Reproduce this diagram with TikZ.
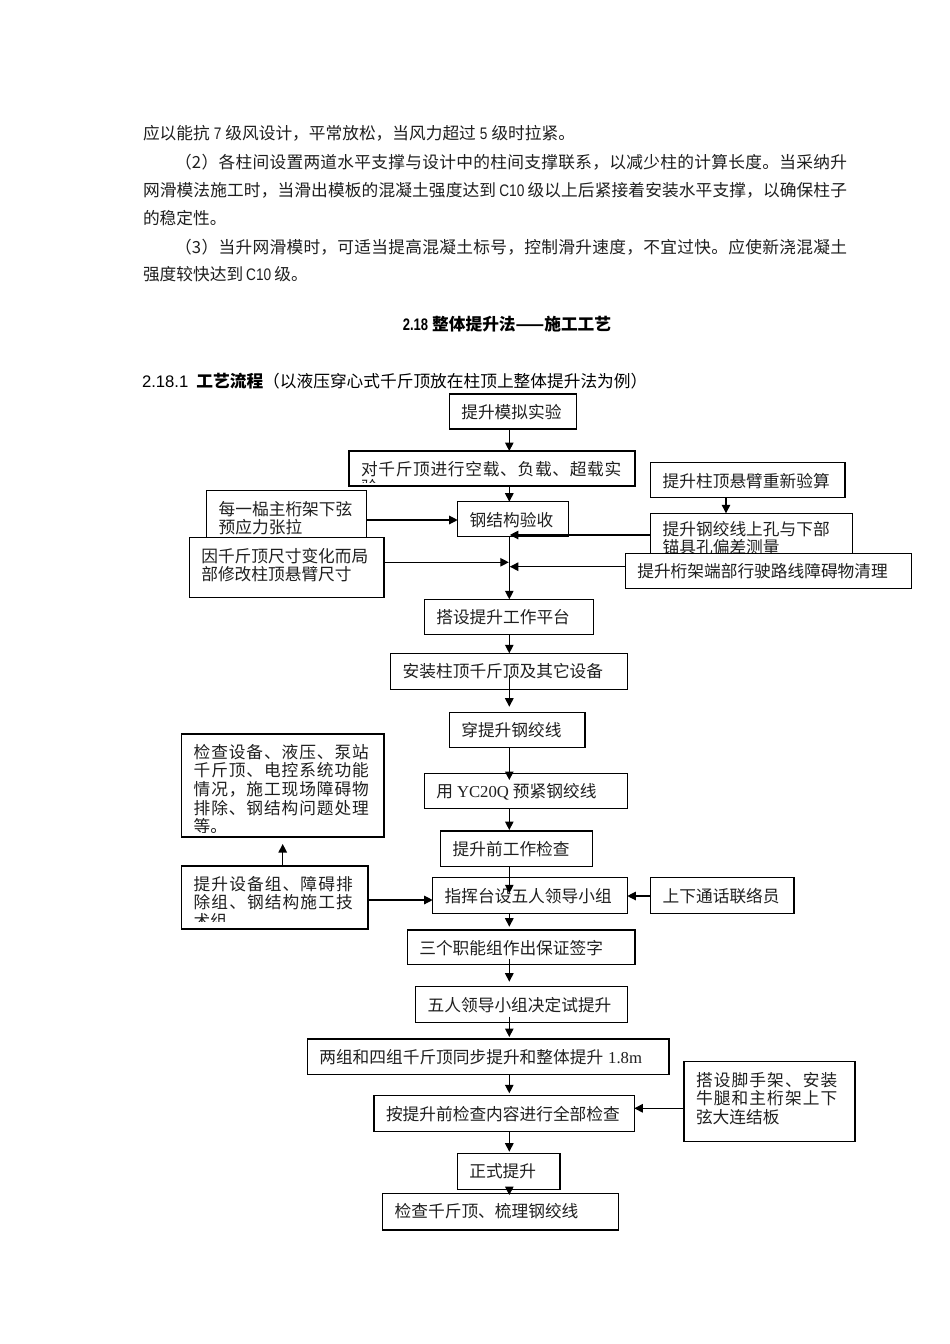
\documentclass[tikz,border=0pt]{standalone}
\usepackage{fontspec}
\usepackage{graphicx}
\setmainfont{Noto Sans CJK SC}
\newfontfamily\lsans{Liberation Sans}
\newfontfamily\lserif{Liberation Serif}
\usetikzlibrary{arrows.meta}

\newcommand\nar[1]{{\lsans\scalebox{0.82}[1]{#1}}}
% letter-spaced text: every token in a box of fixed width
\def\spcendtoks{\spcend}
\newcommand\spc[2]{\def\spcw{#1}\spcaux#2\spcend}
\def\spcaux#1{\def\spctmp{#1}\ifx\spctmp\spcendtoks\else\makebox[\spcw][l]{#1}\expandafter\spcaux\fi}
% justified line
\def\jendtoks{\jend}
\newcommand\jline[2]{\makebox[#1][s]{\jfirst#2\jend}}
\def\jfirst#1{{#1}\jaux}
\def\jaux#1{\def\jtmp{#1}\ifx\jtmp\jendtoks\else\hfill{#1}\expandafter\jaux\fi}

\tikzset{
  box/.style={draw, line width=1.3pt, fill=white, rectangle, inner sep=0pt, outer sep=0pt, anchor=north west},
  txt/.style={draw=none, fill=none, rectangle, minimum width=0pt, minimum height=0pt, inner sep=0pt, outer sep=0pt, font=\fontsize{16.7pt}{18.5pt}\selectfont, text=black!88},
  arr/.style={line width=1.2pt, draw=black, -{Triangle[length=8.5pt,width=8.5pt]}},
}

% name, x1, y1, x2, y2, first baseline offset, clip inset at bottom, lines
\newcommand\tb[8]{%
  \node[box, minimum width={(#4-#2)*1pt}, minimum height={(#5-#3)*1pt},
    path picture={%
      \clip (path picture bounding box.north west) rectangle ([yshift={#7*1pt}]path picture bounding box.south east);
      \foreach \lnx [count=\ii] in {#8} {%
        \node[txt, anchor=base west] at ([xshift=12pt, yshift={-(#6+(\ii-1)*18.6)*1pt}]path picture bounding box.north west) {\lnx};}%
    }] (#1) at (#2,#3) {};}

\begin{document}
\begin{tikzpicture}[x=1pt, y=-1pt]
\fill[white] (0,0) rectangle (950,1344);
\useasboundingbox (0,0) rectangle (950,1344);

% ---------- body text ----------
\node[txt, anchor=base west] (p1) at (143,139) {应以能抗\hspace{4pt}\nar{7}\hspace{4pt}级风设计，平常放松，当风力超过\hspace{4pt}\nar{5}\hspace{4pt}级时拉紧。};
\node[txt, anchor=base west] (p2) at (175,168) {\jline{672pt}{（2）各柱间设置两道水平支撑与设计中的柱间支撑联系，以减少柱的计算长度。当采纳升}};
\node[txt, anchor=base west] (p3) at (143,196.3) {\jline{704pt}{网滑模法施工时，当滑出模板的混凝土强度达到{\hspace{3pt}\nar{C10}\hspace{3pt}}级以上后紧接着安装水平支撑，以确保柱子}};
\node[txt, anchor=base west] (p4) at (143,224.6) {的稳定性。};
\node[txt, anchor=base west] (p5) at (175,253) {\jline{672pt}{（3）当升网滑模时，可适当提高混凝土标号，控制滑升速度，不宜过快。应使新浇混凝土}};
\node[txt, anchor=base west] (p6) at (143,280.6) {强度较快达到\hspace{3pt}\nar{C10}\hspace{3pt}级。};
\node[txt, anchor=base west, text=black] (head) at (402.8,330.6) {\scalebox{0.78}[1]{\lsans\bfseries 2.18}\hspace{4pt}{\bfseries 整体提升法——施工工艺}};
\node[txt, anchor=base west, text=black] (sub) at (142,387) {{\lsans 2.18.1}\hspace{8pt}{\bfseries 工艺流程}（以液压穿心式千斤顶放在柱顶上整体提升法为例）};

% ---------- boxes ----------
\tb{s1}{449.3}{394}{576.7}{429}{24.3}{6}{提升模拟实验}
\tb{s2}{349}{451}{635}{486}{24.3}{4}{\spc{17.4pt}{对千斤顶进行空载、负载、超载实},验}
\tb{R1}{650.7}{462.7}{845}{497.3}{24.3}{6}{提升柱顶悬臂重新验算}
\tb{L1}{206.7}{490.7}{366.7}{545}{24.3}{4}{每一榀主桁架下弦,预应力张拉}
\tb{s3}{457.7}{501.7}{568.3}{536.7}{24.3}{6}{钢结构验收}
\tb{R2}{650.7}{513.3}{852.3}{560}{22}{4}{提升钢绞线上孔与下部,锚具孔偏差测量}
\tb{L2}{189.3}{537.7}{384}{597.7}{24.3}{4}{因千斤顶尺寸变化而局,部修改柱顶悬臂尺寸}
\tb{R3}{625.3}{553.3}{911.7}{588.3}{24}{6}{提升桁架端部行驶路线障碍物清理}
\tb{s4}{424.3}{599.3}{593.3}{634.3}{24.3}{6}{搭设提升工作平台}
\tb{s5}{390.7}{653.3}{627.3}{689.3}{24.3}{6}{安装柱顶千斤顶及其它设备}
\tb{s6}{449.3}{712.3}{585}{747.7}{24.3}{6}{穿提升钢绞线}
\tb{L3}{181.7}{734}{384}{837}{24.3}{5}{\spc{17.6pt}{检查设备、液压、泵站},\spc{17.6pt}{千斤顶、电控系统功能},\spc{17.6pt}{情况，施工现场障碍物},\spc{17.6pt}{排除、钢结构问题处理},等。}
\tb{s7}{424.3}{773.3}{627.3}{808.3}{24.3}{6}{用\hspace{4pt}{\lserif YC20Q}\hspace{4pt}预紧钢绞线}
\tb{s8}{440.7}{831}{592.7}{866.7}{24.3}{6}{提升前工作检查}
\tb{L4}{181.7}{866}{368}{929}{24.3}{8}{\spc{17.8pt}{提升设备组、障碍排},\spc{17.8pt}{除组、钢结构施工技},术组}
\tb{s9}{432.7}{877.7}{627.3}{913.3}{24.3}{6}{指挥台设五人领导小组}
\tb{R4}{650.7}{877.7}{794}{913.3}{24.3}{6}{上下通话联络员}
\tb{s10}{407.3}{930}{635}{964.3}{24.3}{6}{三个职能组作出保证签字}
\tb{s11}{415.7}{986.7}{627.3}{1022.3}{24.3}{6}{五人领导小组决定试提升}
\tb{s12}{307.3}{1039}{669}{1074.3}{24.3}{6}{两组和四组千斤顶同步提升和整体提升\hspace{5pt}{\lserif 1.8m}}
\tb{R5}{684}{1061.7}{855}{1141.7}{24.3}{6}{\spc{17.8pt}{搭设脚手架、安装},\spc{17.8pt}{牛腿和主桁架上下},弦大连结板}
\tb{s13}{374}{1095.7}{634.3}{1131.7}{24.3}{6}{按提升前检查内容进行全部检查}
\tb{s14}{457.3}{1153.3}{560}{1189.3}{24.3}{6}{正式提升}
\tb{s15}{382.7}{1193.3}{618.3}{1230}{24.3}{6}{检查千斤顶、梳理钢绞线}

% ---------- connectors ----------
\coordinate (col) at (509.3,0);
\draw[arr] (s1.south -| col) -- (s2.north -| col);
\draw[arr] (s2.south -| col) -- (s3.north -| col);
\draw[arr] (s3.south -| col) -- (s4.north -| col);
\draw[arr] (s4.south -| col) -- (s5.north -| col);
\draw[arr, shorten <=-14pt, shorten >=5.6pt] (s5.south -| col) -- (s6.north -| col);
\draw[arr, shorten >=-6.7pt] (s6.south -| col) -- (s7.north -| col);
\draw[arr, shorten >=1pt] (s7.south -| col) -- (s8.north -| col);
\draw[arr, shorten >=-15.6pt] (s8.south -| col) -- (s9.north -| col);
\draw[arr, shorten >=3.3pt] (s9.south -| col) -- (s10.north -| col);
\draw[arr, shorten <=-5pt, shorten >=5pt] (s10.south -| col) -- (s11.north -| col);
\draw[arr, shorten <=-5.6pt, shorten >=2pt] (s11.south -| col) -- (s12.north -| col);
\draw[arr, shorten >=2.4pt] (s12.south -| col) -- (s13.north -| col);
\draw[arr, shorten >=1.6pt] (s13.south -| col) -- (s14.north -| col);
\draw[arr, shorten >=-1.7pt] (s14.south -| col) -- (s15.north -| col);

\coordinate (h1) at (0,520);
\draw[arr] (L1.east |- h1) -- (s3.west |- h1);
\coordinate (c726) at (726,0);
\draw[arr] (R1.south -| c726) -- (R2.north -| c726);
\coordinate (j1) at (509.8,535);
\draw[arr] (R2.west |- j1) -- (j1);
\coordinate (j2) at (508.8,562.3);
\draw[arr] (L2.east |- j2) -- (j2);
\coordinate (j3) at (509.8,566.7);
\draw[arr] (R3.west |- j3) -- (j3);
\coordinate (c283) at (282.7,0);
\draw[arr, shorten >=7pt] (L4.north -| c283) -- (L3.south -| c283);
\coordinate (h2) at (0,900);
\draw[arr] (L4.east |- h2) -- (s9.west |- h2);
\coordinate (h3) at (0,896);
\draw[arr] (R4.west |- h3) -- (s9.east |- h3);
\coordinate (h4) at (0,1108.3);
\draw[arr] (R5.west |- h4) -- (s13.east |- h4);
\end{tikzpicture}
\end{document}
